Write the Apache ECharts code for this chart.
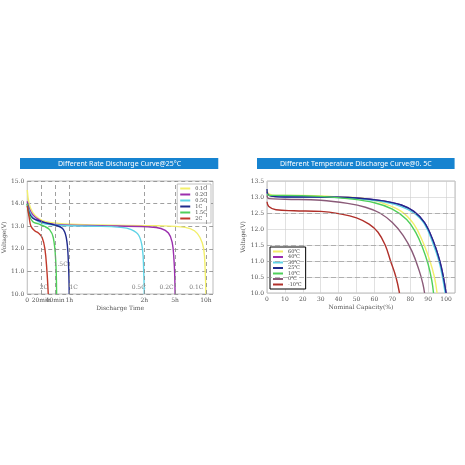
<!DOCTYPE html>
<html><head><meta charset="utf-8">
<script src="https://cdn.jsdelivr.net/npm/echarts@6/dist/echarts.min.js"></script>
<style>html,body{margin:0;background:#fff}#c{width:465px;height:465px}</style>
</head><body><div id="c"></div>
<script>
// Left chart: x in plot-position units (0..100), mapped to time tick labels
const timeTickPos = [0, 7.5, 15, 22.6, 63, 79.6, 96.2];
const timeTickLabels = ['0', '20min', '40min', '1h', '2h', '5h', '10h'];
const rateNames = ['0.1C', '0.2C', '0.5C', '1C', '1.5C', '2C'];
const rateColors = ['#f2ef6a', '#9b2fae', '#5fd3e6', '#1f2a8c', '#4fcf5a', '#c0392b'];
const rateData = [
  [[0,14.6],[1,14.0],[3,13.6],[6,13.35],[10,13.2],[20,13.1],[40,13.05],[70,13.02],[85,12.95],[90,12.8],[93,12.5],[95,12.0],[95.8,11.0],[96.2,10.0]],
  [[0,14.1],[1,13.8],[3,13.5],[6,13.3],[10,13.15],[20,13.05],[40,13.02],[65,12.97],[72,12.9],[76,12.7],[78,12.3],[79,11.5],[79.4,10.8],[79.6,10.0]],
  [[0,13.9],[1,13.7],[3,13.4],[6,13.2],[10,13.1],[20,13.03],[35,13.0],[50,12.95],[56,12.85],[60,12.6],[62,12.0],[62.7,11.0],[63,10.0]],
  [[0,14.0],[1,13.6],[3,13.35],[6,13.25],[10,13.15],[15,13.05],[19,12.9],[21,12.5],[22.1,11.5],[22.6,10.0]],
  [[0,14.0],[1,13.5],[3,13.2],[6,13.1],[9,13.0],[12,12.85],[14,12.5],[15.3,11.5],[15.8,10.0]],
  [[0,13.9],[1,13.4],[2,13.0],[4,12.8],[6,12.7],[8,12.5],[9.5,12.0],[10.6,11.0],[11.3,10.0]]
];
const rateLabelPts = [[91,10.3],[75,10.3],[60,10.3],[25,10.3],[18,11.3],[9,10.3]];
// Right chart
const tempNames = ['60℃', '40℃', '30℃', '25℃', '10℃', '0℃', '-10℃'];
const tempColors = ['#f2ef6a', '#9b2fae', '#5fd3e6', '#1f2a8c', '#4fcf5a', '#8a5a78', '#b0302a'];
const tempData = [
  [[0,13.2],[1,13.1],[5,13.05],[20,13.05],[40,13.0],[55,12.95],[65,12.8],[75,12.55],[82,12.15],[87,11.6],[91,11.0],[93.5,10.5],[95,10.0]],
  [[0,13.15],[1,13.05],[10,13.0],[30,13.0],[50,12.97],[65,12.88],[75,12.75],[82,12.55],[88,12.2],[93,11.6],[96.5,11.0],[98.5,10.5],[100,10.0]],
  [[0,13.1],[1,13.05],[10,13.0],[30,13.0],[50,12.95],[65,12.85],[75,12.7],[82,12.5],[88,12.15],[93,11.5],[96,11.0],[98,10.5],[99.5,10.0]],
  [[0,13.25],[1,13.05],[10,13.0],[30,13.0],[50,12.97],[65,12.88],[75,12.75],[82,12.55],[88,12.2],[93,11.6],[96.5,11.0],[98.5,10.5],[100,10.0]],
  [[0,13.1],[1,13.05],[10,13.05],[30,13.02],[45,12.95],[60,12.82],[70,12.62],[78,12.3],[83,11.9],[87,11.4],[90,10.9],[92,10.4],[93,10.0]],
  [[0,13.05],[1,12.95],[10,12.93],[30,12.9],[45,12.8],[55,12.68],[63,12.5],[70,12.2],[76,11.8],[81,11.3],[85,10.7],[87,10.3],[88,10.0]],
  [[0,12.85],[1,12.7],[5,12.6],[15,12.57],[30,12.55],[40,12.48],[50,12.35],[57,12.15],[62,11.9],[66,11.5],[69,11.0],[72,10.5],[74,10.0]]
];
const serif = '"DejaVu Serif", "Liberation Serif", serif';
const axisTxt = {color:'#555', fontFamily:serif, fontSize:6};
const dashed = {show:true, lineStyle:{type:[4,3], color:'#888', width:0.8}};
const series = [];
rateNames.forEach((n,i)=>series.push({name:n,type:'line',xAxisIndex:0,yAxisIndex:0,smooth:0.4,showSymbol:false,
  data:rateData[i],lineStyle:{color:rateColors[i],width:1.4},itemStyle:{color:rateColors[i]}}));
series.push({type:'scatter',xAxisIndex:0,yAxisIndex:0,symbolSize:0,silent:true,
  data:rateLabelPts.map((p,i)=>({value:p,label:{show:true,formatter:rateNames[i],position:'inside',color:'#555',fontFamily:serif,fontSize:6}}))});
tempNames.forEach((n,i)=>series.push({name:n,type:'line',xAxisIndex:1,yAxisIndex:1,smooth:0.4,showSymbol:false,
  data:tempData[i],lineStyle:{color:tempColors[i],width:1.4},itemStyle:{color:tempColors[i]}}));
const chart = echarts.init(document.getElementById('c'));
chart.setOption({
  animation:false,
  title:[
    {text:'Different Rate Discharge Curve@25°C',left:20,top:158,
     backgroundColor:'#1683d0',padding:[2,37,2,38],textStyle:{color:'#fff',fontSize:7,fontWeight:'normal',fontFamily:'Noto Sans'}},
    {text:'Different Temperature Discharge Curve@0. 5C',left:257,top:158,backgroundColor:'#1683d0',padding:[2,23,2,23],
     textStyle:{color:'#fff',fontSize:7,fontWeight:'normal',fontFamily:'Noto Sans'}}
  ],
  legend:[
    {data:rateNames,orient:'vertical',right:254,top:184,itemWidth:10,itemHeight:2,itemGap:1,icon:'rect',
     textStyle:{fontSize:5,fontFamily:serif,color:'#444'},borderColor:'#999',borderWidth:0.6,padding:[2,4,2,3],backgroundColor:'#fff'},
    {data:tempNames,orient:'vertical',left:270,top:247,itemWidth:10,itemHeight:2,itemGap:0.5,icon:'rect',
     textStyle:{fontSize:5,fontFamily:serif,color:'#444'},borderColor:'#000',borderWidth:1,padding:[2,4,2,3],backgroundColor:'#fff'}
  ],
  grid:[
    {left:27,top:181,width:186,height:113,show:true,borderColor:'#aaa',borderWidth:0.8},
    {left:267,top:181,width:188,height:112,show:true,borderColor:'#aaa',borderWidth:0.8}
  ],
  xAxis:[
    {type:'value',gridIndex:0,min:0,max:100,name:'Discharge Time',nameLocation:'middle',nameGap:11,
     nameTextStyle:{color:'#555',fontFamily:serif,fontSize:6},
     axisLine:{show:false},axisTick:{show:false},splitLine:{show:false},
     axisLabel:Object.assign({customValues:timeTickPos,formatter:v=>{const k=timeTickPos.indexOf(v);return k<0?'':timeTickLabels[k];},margin:3},axisTxt)},
    {type:'value',gridIndex:1,min:0,max:105,interval:10,name:'Nominal Capacity(%)',nameLocation:'middle',nameGap:11,
     nameTextStyle:{color:'#555',fontFamily:serif,fontSize:6},
     axisLine:{show:false},axisTick:{show:false},
     splitLine:{show:true,lineStyle:{color:'#ccc',width:0.6}},
     axisLabel:Object.assign({margin:3,formatter:v=>v>100?'':v},axisTxt)}
  ],
  yAxis:[
    {type:'value',gridIndex:0,min:10,max:15,interval:1,name:'Voltage(V)',nameLocation:'middle',nameGap:17,
     nameTextStyle:{color:'#555',fontFamily:serif,fontSize:6},
     axisLine:{show:false},axisTick:{show:false},splitLine:dashed,
     axisLabel:Object.assign({margin:3,formatter:v=>v.toFixed(1)},axisTxt)},
    {type:'value',gridIndex:1,min:10,max:13.5,interval:0.5,name:'Voltage(V)',nameLocation:'middle',nameGap:17,
     nameTextStyle:{color:'#555',fontFamily:serif,fontSize:6},
     axisLine:{show:false},axisTick:{show:false},
     splitLine:{show:true,lineStyle:{color:'#ccc',width:0.6}},
     axisLabel:Object.assign({margin:3,formatter:v=>v.toFixed(1)},axisTxt)}
  ],
  series:series.concat([{type:'line',xAxisIndex:0,yAxisIndex:0,data:[],silent:true,
    markLine:{symbol:'none',silent:true,label:{show:false},lineStyle:{type:[4,3],color:'#888',width:0.8},
      data:timeTickPos.slice(1).map(v=>({xAxis:v}))}},
    {type:'line',xAxisIndex:1,yAxisIndex:1,data:[],silent:true,
    markLine:{symbol:'none',silent:true,label:{show:false},lineStyle:{type:[5,3],color:'#999',width:0.7},
      data:[{yAxis:10.5},{yAxis:11},{yAxis:11.5},{yAxis:12.5}]}}])
});
</script></body></html>
